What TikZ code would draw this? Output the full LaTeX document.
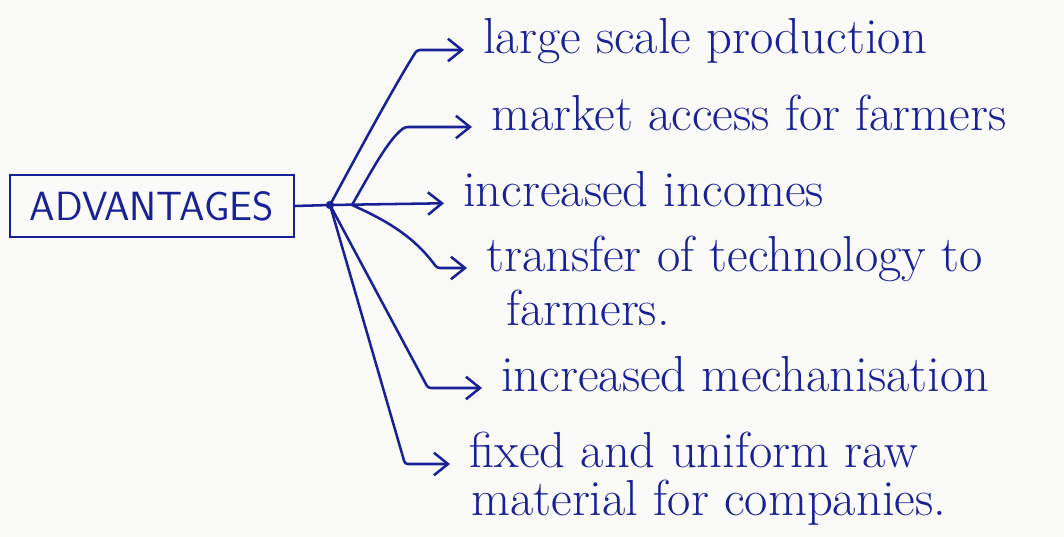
\documentclass[tikz,border=0pt]{standalone}
\usepackage{tikz}
\usetikzlibrary{arrows.meta}
\definecolor{ink}{RGB}{24,34,150}
\definecolor{paper}{RGB}{250,250,248}

\begin{document}
\begin{tikzpicture}[x=0.025cm, y=-0.025cm, line width=1.8pt, ink,
    item/.style = {anchor=west, inner sep=0pt, text height=0.75em, text depth=0.25em,
                   font=\fontsize{36}{42}\selectfont},
    branch/.style = {-{Straight Barb[length=10pt,width=16pt]}, shorten >=0.45cm, rounded corners=2pt}]
                \fill[paper] (0,0) rectangle (1064,537);
                \useasboundingbox (0,0) rectangle (1064,537);
                % heading box
                \node[draw, minimum width=7.1cm, minimum height=1.55cm, line width=1.5pt,
                      font=\sffamily\fontsize{29}{34}\selectfont] (adv) at (152,206) {ADVANTAGES};
                \coordinate (j) at (330,205);
                \coordinate (jj) at (352,205);
                % items
                \node[item] (large) at (482,50) {large scale production};
                \node[item] (market) at (490,127) {market access for farmers};
                \node[item] (incomes) at (462,203) {increased incomes};
                \node[item] (transfer) at (485,268) {transfer of technology to};
                \node[item] (farmers) at (505,322) {farmers.};
                \node[item] (mech) at (500,388) {increased mechanisation};
                \node[item] (fixed) at (468,464) {fixed and uniform raw};
                \node[item] (material) at (470,512) {material for companies.};
                % connectors
                \draw (adv.east) -- (j);
                \fill (j) circle (3pt);
                \draw[branch] (j) -- (incomes.west);
                \draw[branch] (j) .. controls (365,140) and (395,85) .. (417,0 |- large.west) -- (large.west);
                \draw[branch] (jj) .. controls (372,170) and (388,140) .. (405,0 |- market.west) -- (market.west);
                \draw[branch] (jj) .. controls (390,222) and (415,238) .. (437,0 |- transfer.west) -- (transfer.west);
                \draw[branch] (j) -- (428,0 |- mech.west) -- (mech.west);
                \draw[branch] (j) -- (405,0 |- fixed.west) -- (fixed.west);
            \end{tikzpicture}
\end{document}
